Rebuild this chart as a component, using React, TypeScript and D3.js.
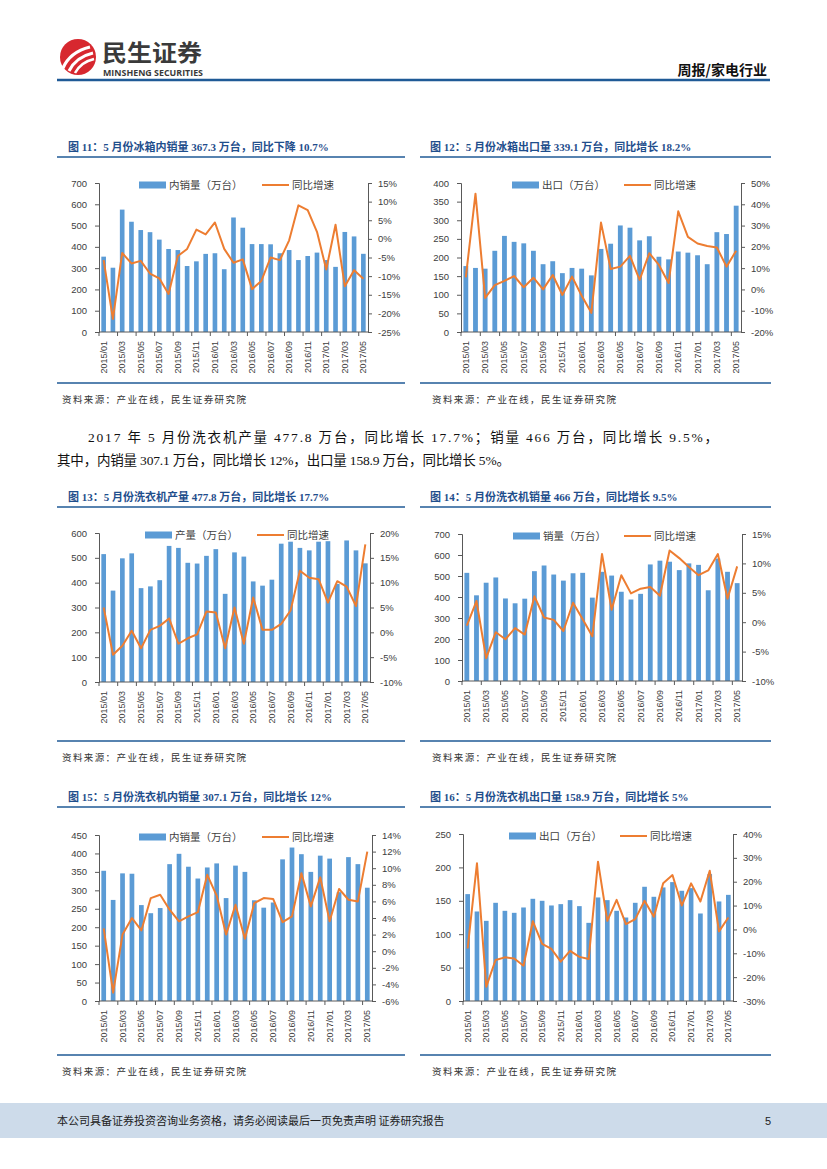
import { useEffect, useRef } from "react";
import * as d3 from "d3";

// categories
const months = [
  "2015/01", "2015/02", "2015/03", "2015/04", "2015/05", "2015/06", "2015/07", "2015/08",
  "2015/09", "2015/10", "2015/11", "2015/12", "2016/01", "2016/02", "2016/03", "2016/04",
  "2016/05", "2016/06", "2016/07", "2016/08", "2016/09", "2016/10", "2016/11", "2016/12",
  "2017/01", "2017/02", "2017/03", "2017/04", "2017/05",
];

// 图11 冰箱内销
const fridgeDomestic = [354, 302, 575, 518, 479, 469, 434, 390, 385, 310, 332, 367, 370, 295, 538, 490, 413, 413, 412, 370, 385, 338, 357, 373, 338, 306, 470, 449, 367.3];
const fridgeDomesticYoy = [-5.7, -21.5, -3.8, -6.6, -5.9, -9.3, -10.6, -14.8, -4.6, -2.7, 2.5, 1.2, 4.4, -2.7, -6.4, -5.5, -13.5, -11.3, -5, -5.7, -0.4, 9, 7.7, 1.9, -8.2, 3.8, -12.7, -8.4, -10.7];

// 图12 冰箱出口
const fridgeExport = [177, 172, 170, 218, 258, 242, 238, 218, 182, 190, 158, 172, 170, 152, 223, 237, 286, 280, 246, 257, 202, 195, 216, 213, 206, 182, 268, 263, 339.1];
const fridgeExportYoy = [5.7, 45, -4, 2, 4, 6.3, 1, 5.5, 0, 6.8, -2.6, 6, -3, -11, 31.4, 9.6, 10.7, 15.8, 4.5, 17, 11.5, 3, 36.7, 24.7, 21.6, 20.4, 19.7, 10.7, 18.2];

// 图13 洗衣机产量
const washerOutput = [515, 368, 498, 518, 378, 385, 410, 548, 540, 480, 477, 508, 535, 355, 522, 505, 405, 388, 412, 557, 565, 540, 530, 565, 567, 395, 570, 530, 477.8];
const washerOutputYoy = [5, -4.5, -2.7, 0.3, -3.2, 0.5, 1.3, 2.8, -2.3, -1.2, -0.4, 4.2, 4, -3.2, 5, -2.3, 7, 0.5, 0.5, 1.7, 4.4, 12.4, 11, 10.7, 6, 10.3, 9.2, 5.3, 17.7];

// 图14 洗衣机销量
const washerSales = [515, 408, 468, 493, 393, 370, 392, 523, 550, 507, 478, 513, 515, 397, 520, 502, 425, 388, 415, 555, 573, 568, 528, 560, 553, 432, 583, 520, 466];
const washerSalesYoy = [-0.6, 3.6, -6.1, -1.7, -2.9, -1, -2.1, 4.4, 0.8, 0.4, -1.5, 3.3, 0.5, -2.4, 11.6, 2.1, 8, 4.9, 5.7, 6, 4.5, 12.2, 10.9, 9.4, 8, 8.8, 11.6, 4, 9.5];

// 图15 洗衣机内销
const washerDomestic = [353, 274, 346, 345, 260, 238, 252, 371, 399, 364, 332, 362, 373, 279, 367, 350, 273, 253, 267, 384, 416, 398, 350, 394, 386, 295, 390, 371, 307.1];
const washerDomesticYoy = [2.75, -5, 2, 4, 2.5, 6.4, 6.8, 5, 3.6, 4.2, 4.7, 9.2, 6.7, 2, 5.6, 1.5, 5.8, 6.4, 6.3, 3.5, 4.2, 9.4, 5.4, 8.9, 3.6, 7.5, 6.2, 6, 12];

// 图16 洗衣机出口
const washerExport = [160, 134, 120, 147, 135, 132, 140, 153, 150, 143, 145, 151, 142, 117, 155, 151, 135, 125, 147, 171, 156, 170, 178, 165, 169, 131, 190, 149, 158.9];
const washerExportYoy = [-8, 27.7, -24, -12.8, -11.7, -12.2, -15.2, 3.4, -6.1, -8.2, -13.5, -9, -11.5, -12.4, 28.4, 3.6, 12.4, 2.2, 4.3, 12, 5.3, 19.4, 22.8, 10, 19.3, 11.7, 24.6, -0.8, 5];

const BLUE = "#5b9bd5";
const ORANGE = "#ed7d31";
const AXIS = "#595959";
const TEXT = "#404040";
const NAVY = "#1f5a96";
const SANS = "'Liberation Sans', Arial, 'Noto Sans CJK SC', sans-serif";
const CJK = "'Noto Sans CJK SC', 'Liberation Sans', sans-serif";
const SERIF = "'Liberation Serif', 'Noto Sans CJK SC', serif";

type Cfg = {
  bars: number[];
  yoy: number[];
  barLabel: string;
  left: number;
  right: number;
  top: number;
  bottom: number;
  yl: [number, number, number];
  yr: [number, number, number];
  legRect: number;
  legLine: number;
};

function ComboChart({ cfg }: { cfg: Cfg }) {
  const ref = useRef<SVGGElement | null>(null);

  useEffect(() => {
    if (!ref.current) return;
    const g = d3.select(ref.current);
    g.selectAll("*").remove();

    const x = d3
      .scaleBand<string>()
      .domain(months)
      .range([cfg.left, cfg.right])
      .paddingInner(0.5)
      .paddingOuter(0.25);
    const yL = d3.scaleLinear().domain([cfg.yl[0], cfg.yl[1]]).range([cfg.bottom, cfg.top]);
    const yR = d3.scaleLinear().domain([cfg.yr[0], cfg.yr[1]]).range([cfg.bottom, cfg.top]);

    // bars
    g.append("g")
      .selectAll("rect")
      .data(cfg.bars)
      .enter()
      .append("rect")
      .attr("x", (d, i) => x(months[i])!)
      .attr("y", (d) => yL(d))
      .attr("width", x.bandwidth())
      .attr("height", (d) => cfg.bottom - yL(d))
      .attr("fill", BLUE);

    // yoy line
    const line = d3
      .line<number>()
      .x((d, i) => x(months[i])! + x.bandwidth() / 2)
      .y((d) => yR(d));
    g.append("path")
      .datum(cfg.yoy)
      .attr("d", line)
      .attr("fill", "none")
      .attr("stroke", ORANGE)
      .attr("stroke-width", 2)
      .attr("stroke-linejoin", "round");

    // left axis
    const lt = d3.range(cfg.yl[0], cfg.yl[1] + 0.001, cfg.yl[2]);
    const la = g
      .append("g")
      .attr("transform", `translate(${cfg.left},0)`)
      .call(d3.axisLeft(yL).tickValues(lt).tickSize(4).tickPadding(8).tickFormat(d3.format("d")));
    // right axis
    const rt = d3.range(cfg.yr[0], cfg.yr[1] + 0.001, cfg.yr[2]);
    const ra = g
      .append("g")
      .attr("transform", `translate(${cfg.right},0)`)
      .call(d3.axisRight(yR).tickValues(rt).tickSize(4).tickPadding(6).tickFormat((d) => `${d}%`));
    [la, ra].forEach((a) => {
      a.select(".domain").attr("stroke", AXIS);
      a.selectAll(".tick line").attr("stroke", AXIS);
      a.selectAll("text").attr("fill", TEXT).attr("font-size", 9.5).attr("font-family", SANS);
    });

    // x axis
    g.append("line")
      .attr("x1", cfg.left)
      .attr("x2", cfg.right)
      .attr("y1", cfg.bottom)
      .attr("y2", cfg.bottom)
      .attr("stroke", AXIS);
    const step = x.step();
    g.append("g")
      .selectAll("line")
      .data(months.filter((m, i) => i % 2 === 0))
      .enter()
      .append("line")
      .attr("x1", (m) => x(m)! - (step - x.bandwidth()) / 2)
      .attr("x2", (m) => x(m)! - (step - x.bandwidth()) / 2)
      .attr("y1", cfg.bottom)
      .attr("y2", cfg.bottom + 4)
      .attr("stroke", AXIS);
    g.append("g")
      .selectAll("text")
      .data(months.filter((m, i) => i % 2 === 0))
      .enter()
      .append("text")
      .attr("transform", (m) => `translate(${x(m)! + x.bandwidth() / 2 + 3},${cfg.bottom + 9}) rotate(-90)`)
      .attr("text-anchor", "end")
      .attr("font-size", 9)
      .attr("font-family", SANS)
      .attr("fill", TEXT)
      .text((m) => m);

    // legend
    const ly = cfg.top + 2;
    g.append("rect")
      .attr("x", cfg.legRect)
      .attr("y", ly - 3.5)
      .attr("width", 27)
      .attr("height", 7)
      .attr("fill", BLUE);
    g.append("text")
      .attr("x", cfg.legRect + 30)
      .attr("y", ly + 4)
      .attr("font-size", 10.5)
      .attr("font-family", CJK)
      .attr("fill", TEXT)
      .text(cfg.barLabel);
    g.append("line")
      .attr("x1", cfg.legLine)
      .attr("x2", cfg.legLine + 27)
      .attr("y1", ly)
      .attr("y2", ly)
      .attr("stroke", ORANGE)
      .attr("stroke-width", 2);
    g.append("text")
      .attr("x", cfg.legLine + 30)
      .attr("y", ly + 4)
      .attr("font-size", 10.5)
      .attr("font-family", CJK)
      .attr("fill", TEXT)
      .text("同比增速");
  }, [cfg]);

  return <g ref={ref} />;
}

const charts: { title: string; tx: number; ty: number; col: number; srcY: number; cfg: Cfg }[] = [
  {
    title: "图 11：5 月份冰箱内销量 367.3 万台，同比下降 10.7%",
    tx: 68, ty: 151, col: 0, srcY: 383,
    cfg: { bars: fridgeDomestic, yoy: fridgeDomesticYoy, barLabel: "内销量（万台）", left: 99, right: 368, top: 183, bottom: 332, yl: [0, 700, 100], yr: [-25, 15, 5], legRect: 139, legLine: 262 },
  },
  {
    title: "图 12：5 月份冰箱出口量 339.1 万台，同比增长 18.2%",
    tx: 430, ty: 151, col: 1, srcY: 383,
    cfg: { bars: fridgeExport, yoy: fridgeExportYoy, barLabel: "出口（万台）", left: 461, right: 741, top: 183, bottom: 332, yl: [0, 400, 50], yr: [-20, 50, 10], legRect: 512, legLine: 624 },
  },
  {
    title: "图 13：5 月份洗衣机产量 477.8 万台，同比增长 17.7%",
    tx: 68, ty: 501, col: 0, srcY: 741,
    cfg: { bars: washerOutput, yoy: washerOutputYoy, barLabel: "产量（万台）", left: 99, right: 370, top: 533, bottom: 682, yl: [0, 600, 100], yr: [-10, 20, 5], legRect: 145, legLine: 257 },
  },
  {
    title: "图 14：5 月份洗衣机销量 466 万台，同比增长 9.5%",
    tx: 430, ty: 501, col: 1, srcY: 741,
    cfg: { bars: washerSales, yoy: washerSalesYoy, barLabel: "销量（万台）", left: 462, right: 742, top: 534, bottom: 681, yl: [0, 700, 100], yr: [-10, 15, 5], legRect: 513, legLine: 624 },
  },
  {
    title: "图 15：5 月份洗衣机内销量 307.1 万台，同比增长 12%",
    tx: 68, ty: 801, col: 0, srcY: 1055,
    cfg: { bars: washerDomestic, yoy: washerDomesticYoy, barLabel: "内销量（万台）", left: 99, right: 372, top: 835, bottom: 1001, yl: [0, 450, 50], yr: [-6, 14, 2], legRect: 139, legLine: 262 },
  },
  {
    title: "图 16：5 月份洗衣机出口量 158.9 万台，同比增长 5%",
    tx: 430, ty: 801, col: 1, srcY: 1055,
    cfg: { bars: washerExport, yoy: washerExportYoy, barLabel: "出口（万台）", left: 463, right: 733, top: 834, bottom: 1001, yl: [0, 250, 50], yr: [-30, 40, 10], legRect: 509, legLine: 620 },
  },
];

export default function App() {
  const colX = [
    [57, 405],
    [420, 771],
  ];
  return (
    <svg
      width={827}
      height={1169}
      style={{ position: "absolute", left: 0, top: 0, background: "#fff" }}
    >
      <rect width={827} height={1169} fill="#fff" />

      {/* header */}
      <circle cx={78} cy={57} r={18} fill="#d7282f" />
      <path d="M63,68 Q70,52 90,47" stroke="#fff" strokeWidth={3.2} fill="none" />
      <path d="M69,71 Q76,57 93,53" stroke="#fff" strokeWidth={3} fill="none" />
      <path d="M75,73 Q81,62 94,59" stroke="#fff" strokeWidth={2.6} fill="none" />
      <text x={102} y={61} fontSize={23} fontWeight="bold" fontFamily={CJK} fill="#3a3a3a" textLength={100} lengthAdjust="spacingAndGlyphs">
        民生证券
      </text>
      <text x={103} y={75.5} fontSize={8.5} fontWeight="bold" fontFamily="'Open Sans', 'Liberation Sans', sans-serif" fill="#3a3a3a" textLength={100} lengthAdjust="spacingAndGlyphs">
        MINSHENG SECURITIES
      </text>
      <text x={767} y={75} fontSize={14} fontWeight="bold" fontFamily={CJK} fill="#111" textAnchor="end">
        周报/家电行业
      </text>
      <line x1={57} x2={770} y1={80} y2={80} stroke={NAVY} strokeWidth={2.5} />

      {charts.map((c, i) => (
        <g key={i}>
          <text x={c.tx} y={c.ty} fontSize={11} fontWeight="bold" fontFamily={SERIF} fill="#1f4e8c">
            {c.title}
          </text>
          <line x1={colX[c.col][0]} x2={colX[c.col][1]} y1={c.ty + 6} y2={c.ty + 6} stroke={NAVY} strokeWidth={1.5} />
          <ComboChart cfg={c.cfg} />
          <line x1={colX[c.col][0]} x2={colX[c.col][1]} y1={c.srcY} y2={c.srcY} stroke={NAVY} strokeWidth={1.5} />
          <text x={c.col === 0 ? 62 : 432} y={c.srcY + 20} fontSize={9.5} fontFamily={SERIF} fill="#333" letterSpacing={1.4}>
            资料来源：产业在线，民生证券研究院
          </text>
        </g>
      ))}

      {/* body text */}
      <text x={88} y={442} fontSize={13.5} fontFamily={SERIF} fill="#111" textLength={630} lengthAdjust="spacing">
        2017 年 5 月份洗衣机产量 477.8 万台，同比增长 17.7%；销量 466 万台，同比增长 9.5%，
      </text>
      <text x={57} y={465} fontSize={13.5} fontFamily={SERIF} fill="#111" textLength={453} lengthAdjust="spacing">
        其中，内销量 307.1 万台，同比增长 12%，出口量 158.9 万台，同比增长 5%。
      </text>

      {/* footer */}
      <rect x={0} y={1103} width={827} height={35} fill="#cddbea" />
      <text x={57} y={1125} fontSize={11} fontFamily={CJK} fill="#222">
        本公司具备证券投资咨询业务资格，请务必阅读最后一页免责声明 证券研究报告
      </text>
      <text x={765} y={1125} fontSize={11} fontFamily={SANS} fill="#222">
        5
      </text>
    </svg>
  );
}
